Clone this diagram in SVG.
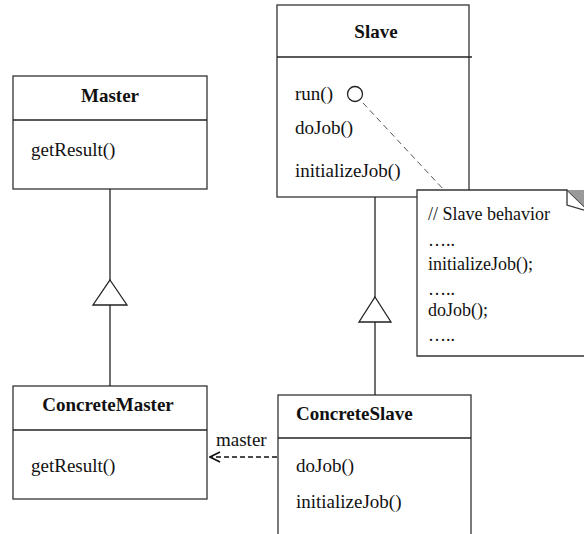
<svg xmlns="http://www.w3.org/2000/svg" width="584" height="534" viewBox="0 0 584 534">
  <defs>
    <style>
      .box { fill: #fff; stroke: #333; stroke-width: 1.3; }
      .div { stroke: #222; stroke-width: 1.3; }
      .line { stroke: #222; stroke-width: 1.3; fill: none; }
      .tri { fill: #fff; stroke: #222; stroke-width: 1.3; }
      text { font-family: "Liberation Serif", "Times New Roman", serif; font-size: 19px; fill: #111; }
      .note-text { font-size: 18px; }
      .title { font-weight: bold; }
      .mid { text-anchor: middle; }
    </style>
    <marker id="open-arrow" viewBox="0 0 12 12" refX="11" refY="6" markerWidth="12" markerHeight="12" markerUnits="userSpaceOnUse" orient="auto">
      <path d="M1,1 L11,6 L1,11" fill="none" stroke="#111" stroke-width="1.6"/>
    </marker>
  </defs>

  <rect width="584" height="534" fill="#fff"/>

  <g id="master">
    <rect class="box" x="13" y="76" width="194" height="113"/>
    <line class="div" x1="13" y1="120" x2="207" y2="120"/>
    <text class="title mid" x="110" y="102">Master</text>
    <text x="31" y="156">getResult()</text>
  </g>

  <g id="concrete-master">
    <rect class="box" x="13" y="386" width="194" height="113"/>
    <line class="div" x1="13" y1="430" x2="207" y2="430"/>
    <text class="title mid" x="108" y="411">ConcreteMaster</text>
    <text x="31" y="472">getResult()</text>
  </g>

  <g id="slave">
    <rect class="box" x="277" y="5" width="192" height="192"/>
    <line class="div" x1="277" y1="57" x2="472" y2="57"/>
    <text class="title mid" x="376" y="38">Slave</text>
    <text x="295" y="100">run()</text>
    <circle cx="355" cy="94" r="7.5" fill="#fff" stroke="#222" stroke-width="1.3"/>
    <text x="295" y="134">doJob()</text>
    <text x="295" y="177">initializeJob()</text>
  </g>

  <g id="concrete-slave">
    <rect class="box" x="278" y="395" width="193" height="150"/>
    <line class="div" x1="278" y1="438" x2="471" y2="438"/>
    <text class="title" x="296" y="420">ConcreteSlave</text>
    <text x="296" y="472">doJob()</text>
    <text x="296" y="508">initializeJob()</text>
  </g>

  <g id="note">
    <path class="box" d="M417,190 H567 L590,212 V356 H417 Z"/>
    <polygon points="567,190 590,190 590,212" fill="#999" stroke="none"/>
    <path d="M567,190 V205 L590,212" fill="none" stroke="#333" stroke-width="1.3"/>
    <text class="note-text" x="428" y="220">// Slave behavior</text>
    <text class="note-text" x="428" y="246">…..</text>
    <text class="note-text" x="428" y="270">initializeJob();</text>
    <text class="note-text" x="428" y="295">…..</text>
    <text class="note-text" x="428" y="316">doJob();</text>
    <text class="note-text" x="428" y="341">…..</text>
  </g>

  <!-- connectors -->
  <g id="connectors">
    <!-- Master <- ConcreteMaster generalization -->
    <line class="line" x1="110" y1="189" x2="110" y2="280"/>
    <polygon class="tri" points="110,280 127,305 93,305"/>
    <line class="line" x1="110" y1="305" x2="110" y2="386"/>
    <!-- Slave <- ConcreteSlave generalization -->
    <line class="line" x1="375" y1="197" x2="375" y2="297"/>
    <polygon class="tri" points="375,297 391,322 359,322"/>
    <line class="line" x1="375" y1="322" x2="375" y2="395"/>
    <!-- run() note anchor -->
    <line x1="363" y1="103" x2="444" y2="190" stroke="#555" stroke-width="1" stroke-dasharray="6,4"/>
    <!-- master association -->
    <line x1="277" y1="457" x2="210" y2="457" stroke="#111" stroke-width="1.6" stroke-dasharray="5,3" marker-end="url(#open-arrow)"/>
    <text x="216" y="446" font-size="17.5">master</text>
  </g>
</svg>
